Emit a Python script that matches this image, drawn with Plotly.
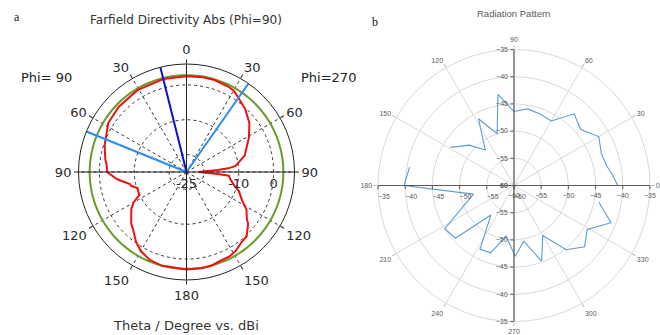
import plotly.graph_objects as go

# ---------------- (a) CST farfield cut, theta clockwise from top, dBi ----------------
red_theta = [0, 10, 17, 26, 30, 34, 43, 52, 61, 74, 83, 85, 86.5, 88, 90, 92, 93.5, 95, 99,
             106, 110, 117, 122, 128, 130, 137, 142, 148, 153, 161, 165, 171, 180,
             195, 203, 210, 216, 223, 227, 236, 240, 244, 252, 256, 258, 264, 270, 275,
             279, 288, 302, 314, 329, 346, 360]
red_dbi = [2.5, 2.6, 2.6, 2.3, 2.0, 1.2, -0.3, -2.1, -4.5, -7.6, -10.8, -13, -16, -19.5, -21.5,
           -19.5, -16, -12.8, -12.3, -10.7, -9, -7.1, -4.7, -3.0, -1.9, 0.3, 0.6, 1.7, 2.2,
           2.4, 2.8, 3.0, 3.0, 2.8, 2.3, 1.2, -0.3, -2.5, -3.3, -5.9, -7.4, -9.9, -10.2,
           -8.6, -8.4, -5.0, -2.2, -2.0, -1.4, -0.3, 1.5, 2.0, 2.4, 2.5, 2.5]
green_level = 2.8
green_theta = list(range(0, 361, 3))
main_lobe_theta = 346
beam_edge_theta = [35, 292]
a_range = [-25, 6]
a_ticks = [-25, -20, -10, 0]
a_ticktext = ["-25", "", "-10", "0"]
a_ang_vals = [0, 30, 60, 90, 120, 150, 180, 210, 240, 270, 300, 330]
a_ang_text = ["0", "30", "60", "90", "120", "150", "180", "150", "120", "90", "60", "30"]

# ---------------- (b) measured radiation pattern, dB ----------------
b_theta = [0, 7, 12, 20, 30, 40, 50, 60, 70, 80, 90, 100, 108, 118, 129, 138, 149, 160,
           170, 180, 192, 212, 222, 232, 242, 251, 261, 271, 280, 290, 300, 309, 319,
           329, 339, 349]
b_db = [-40.9, -41.9, -42.6, -42.9, -42.0, -44.0, -42.8, -46.3, -46.0, -45.7, -46.4, -43.0,
        -50.0, -46.1, -51.6, -48.9, -46.4, None, -40.5, -39.8, -52.4, -45.0, -45.5, -53.1,
        -46.7, -46.9, -50.6, -47.0, -49.6, -45.2, -49.4, -44.8, -42.8, -44.3, -40.9, -44.1]
b_range = [-60, -35]
b_ang_vals = [0, 30, 60, 90, 120, 150, 180, 210, 240, 270, 300, 330]
b_ang_text = ["0", "30", "60", "90", "120", "150", "180", "210", "240", "270", "300", "330"]

FONT_A = "DejaVu Sans"
FONT_B = "Liberation Sans"

fig = go.Figure()

# ---- chart a traces (main polar) ----
fig.add_trace(go.Scatterpolar(r=[green_level] * len(green_theta), theta=green_theta, mode="lines",
                              line=dict(color="#6a9a2a", width=2), subplot="polar", showlegend=False))
fig.add_trace(go.Scatterpolar(r=red_dbi, theta=red_theta, mode="lines",
                              line=dict(color="#ee1111", width=2), subplot="polar", showlegend=False))
fig.add_trace(go.Scatterpolar(r=[a_range[0], a_range[1]], theta=[main_lobe_theta] * 2, mode="lines",
                              line=dict(color="#1010c8", width=2), subplot="polar", showlegend=False))
for t in beam_edge_theta:
    fig.add_trace(go.Scatterpolar(r=[a_range[0], a_range[1]], theta=[t, t], mode="lines",
                                  line=dict(color="#2a8cf0", width=2), subplot="polar", showlegend=False))

# ---- chart b trace ----
fig.add_trace(go.Scatterpolar(r=b_db, theta=b_theta, mode="lines", connectgaps=False,
                              line=dict(color="#5b9bd5", width=1.1), subplot="polar2", showlegend=False))

# overlay subplots (axis lines in other directions)
for k in range(3, 9):
    fig.add_trace(go.Scatterpolar(r=[], theta=[], subplot=f"polar{k}", showlegend=False,
                                  hoverinfo="skip"))

A_DOM = dict(x=[0.11894, 0.44621], y=[0.16418, 0.80896])
B_DOM = dict(x=[0.5727, 0.9848], y=[0.0403, 0.8522])

polar_a = dict(
    domain=A_DOM, bgcolor="white",
    angularaxis=dict(rotation=90, direction="clockwise", tickmode="array", tickvals=a_ang_vals,
                     ticktext=a_ang_text, showline=True, linecolor="#222", linewidth=1,
                     ticks="outside", ticklen=4, tickcolor="#222",
                     tickfont=dict(family=FONT_A, size=13, color="#2a2a2a"),
                     showgrid=True, gridcolor="#333", griddash="3px,3px", gridwidth=1),
    radialaxis=dict(range=a_range, tickmode="array", tickvals=a_ticks, ticktext=a_ticktext,
                    angle=0, side="clockwise", showline=True, linecolor="#222", linewidth=1,
                    ticks="", tickfont=dict(family=FONT_A, size=13, color="#2a2a2a"),
                    showgrid=True, gridcolor="#333", griddash="3px,3px", gridwidth=1),
)
polar_b = dict(
    domain=B_DOM, bgcolor="white",
    angularaxis=dict(rotation=0, direction="counterclockwise", tickmode="array",
                     tickvals=b_ang_vals, ticktext=b_ang_text,
                     showline=True, linecolor="#d9d9d9", linewidth=1,
                     ticks="outside", ticklen=4, tickcolor="#bfbfbf",
                     tickfont=dict(family=FONT_B, size=7, color="#595959"),
                     showgrid=True, gridcolor="#d9d9d9", gridwidth=1),
    radialaxis=dict(range=b_range, tickmode="linear", dtick=5, angle=0, side="clockwise",
                    showline=True, linecolor="#595959", linewidth=1.2,
                    ticks="outside", ticklen=3, tickcolor="#595959",
                    tickfont=dict(family=FONT_B, size=7, color="#595959"),
                    showgrid=True, gridcolor="#d9d9d9", gridwidth=1),
)

layout = dict(polar=polar_a, polar2=polar_b)


def overlay(dom, rng, ang, side, line_color, show_labels, font, tickangle):
    return dict(
        domain=dom, bgcolor="rgba(0,0,0,0)",
        angularaxis=dict(visible=False, showgrid=False),
        radialaxis=dict(range=rng, angle=ang, side=side, showline=True, linecolor=line_color,
                        linewidth=1.2 if show_labels else 1, showgrid=False,
                        showticklabels=show_labels, tickmode="linear", dtick=5,
                        ticks="outside" if show_labels else "", ticklen=3, tickcolor=line_color,
                        tickangle=tickangle, tickfont=font),
    )


fb = dict(family=FONT_B, size=7, color="#595959")
layout["polar3"] = overlay(A_DOM, a_range, 90, "counterclockwise", "#222", False, fb, 0)
layout["polar4"] = overlay(A_DOM, a_range, 180, "counterclockwise", "#222", False, fb, 0)
layout["polar5"] = overlay(A_DOM, a_range, 270, "clockwise", "#222", False, fb, 0)
layout["polar6"] = overlay(B_DOM, b_range, 90, "counterclockwise", "#595959", True, fb, 90)
layout["polar7"] = overlay(B_DOM, b_range, 180, "counterclockwise", "#595959", True, fb, 180)
layout["polar8"] = overlay(B_DOM, b_range, 270, "clockwise", "#595959", True, fb, 270)

annotations = [
    dict(text="a", x=17 / 660, y=1 - 17 / 335, font=dict(family="Liberation Serif", size=12, color="#111")),
    dict(text="Farfield Directivity Abs (Phi=90)", x=186 / 660, y=1 - 20 / 335,
         font=dict(family=FONT_A, size=12, color="#333")),
    dict(text="Phi= 90", x=46 / 660, y=1 - 77 / 335, font=dict(family=FONT_A, size=13, color="#222")),
    dict(text="Phi=270", x=328 / 660, y=1 - 77 / 335, font=dict(family=FONT_A, size=13, color="#222")),
    dict(text="Theta / Degree vs. dBi", x=186 / 660, y=1 - 325 / 335,
         font=dict(family=FONT_A, size=13, color="#333")),
    dict(text="b", x=375 / 660, y=1 - 22 / 335, font=dict(family="Liberation Serif", size=12, color="#111")),
    dict(text="Radiation Pattern", x=513 / 660, y=1 - 14 / 335,
         font=dict(family=FONT_B, size=9.5, color="#595959")),
]
for a in annotations:
    a.update(xref="paper", yref="paper", showarrow=False, xanchor="center", yanchor="middle")

fig.update_layout(**layout)
fig.update_layout(width=660, height=335, margin=dict(l=0, r=0, t=0, b=0),
                  paper_bgcolor="white", plot_bgcolor="white", showlegend=False,
                  annotations=annotations)
fig.write_html("out.html", config={"displayModeBar": False},
               post_script="document.body.style.margin='0';document.body.style.overflow='hidden';")
